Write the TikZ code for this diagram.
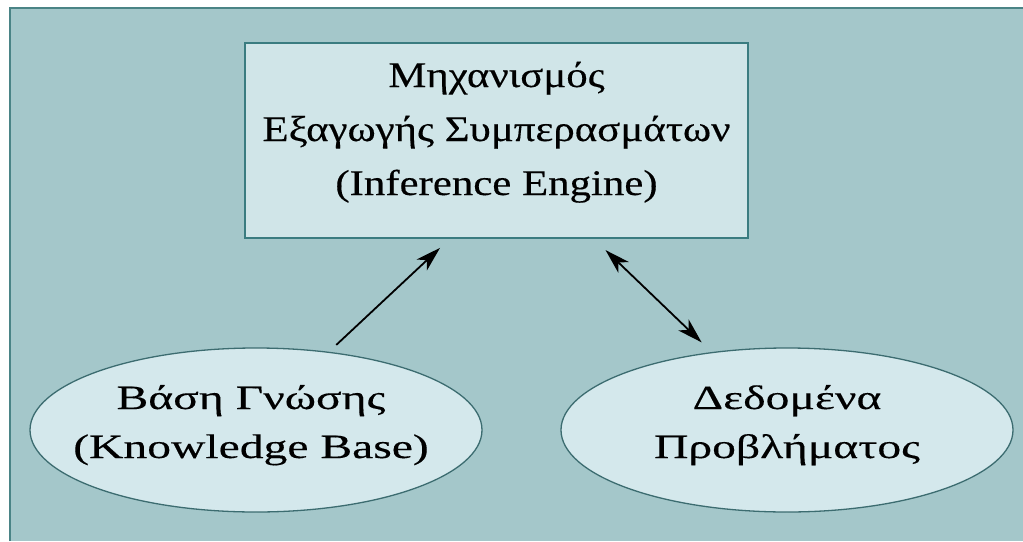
\documentclass[tikz,border=0pt]{standalone}
\usepackage{fontspec}
\setmainfont{Liberation Serif}
\newfontfamily\boxfont[FakeStretch=1.19,FakeBold=0.3]{Liberation Serif}
\newfontfamily\ellfont[FakeStretch=1.40,FakeBold=0.3]{Liberation Serif}
\usetikzlibrary{arrows.meta,calc,shapes.geometric}
\definecolor{bgteal}{RGB}{164,199,202}
\definecolor{frameteal}{RGB}{74,132,134}
\definecolor{boxfill}{RGB}{208,229,232}
\definecolor{boxline}{RGB}{58,124,128}
\definecolor{ellfill}{RGB}{212,232,236}
\definecolor{ellline}{RGB}{60,108,112}
\tikzset{
  enginebox/.style={draw=boxline, line width=2pt, fill=boxfill, rectangle, inner sep=0pt,
    minimum width=503pt, minimum height=195pt},
  boxtext/.style={align=center, font=\boxfont\fontsize{36}{54}\selectfont, inner sep=0pt},
  ellnode/.style={draw=ellline, line width=1.3pt, fill=ellfill, ellipse, inner sep=0pt,
    minimum width=452pt, minimum height=164pt},
  elltext/.style={align=center, font=\ellfont\fontsize{34}{49}\selectfont, inner sep=0pt},
  conn/.style={line width=1.8pt, black},
  arrowtip/.tip={Stealth[length=25pt,width=15pt,inset=7pt]}
}
\begin{document}
\begin{tikzpicture}[x=1pt,y=-1pt]
\useasboundingbox (0,0) rectangle (1023,541);
\fill[white] (0,0) rectangle (1023,541);
\fill[bgteal] (10,8) rectangle (1023,541);
\draw[frameteal, line width=2.5pt] (10,541) -- (10,8) -- (1023,8);
\node[enginebox] (ie) at (496.5,140.5) {};
\node[boxtext, anchor=base] (ietext) at (496.5,195) {Μηχανισμός\\Εξαγωγής Συμπερασμάτων\\(Inference Engine)};
\node[ellnode] (kb) at (256,430) {};
\node[elltext, anchor=base] (kbtext) at (251,458) {Βάση Γνώσης\\(Knowledge Base)};
\node[ellnode] (dp) at (787,430) {};
\node[elltext, anchor=base] (dptext) at (787,458) {Δεδομένα\\Προβλήματος};
\draw[conn, -arrowtip, shorten <=10pt, shorten >=13pt]
  (kb.47) -- ($(ie.south west)!0.407!(ie.south east)$);
\draw[conn, arrowtip-arrowtip, shorten <=16pt, shorten >=14pt]
  ($(ie.south west)!0.693!(ie.south east)$) -- (dp.134);
\end{tikzpicture}
\end{document}
